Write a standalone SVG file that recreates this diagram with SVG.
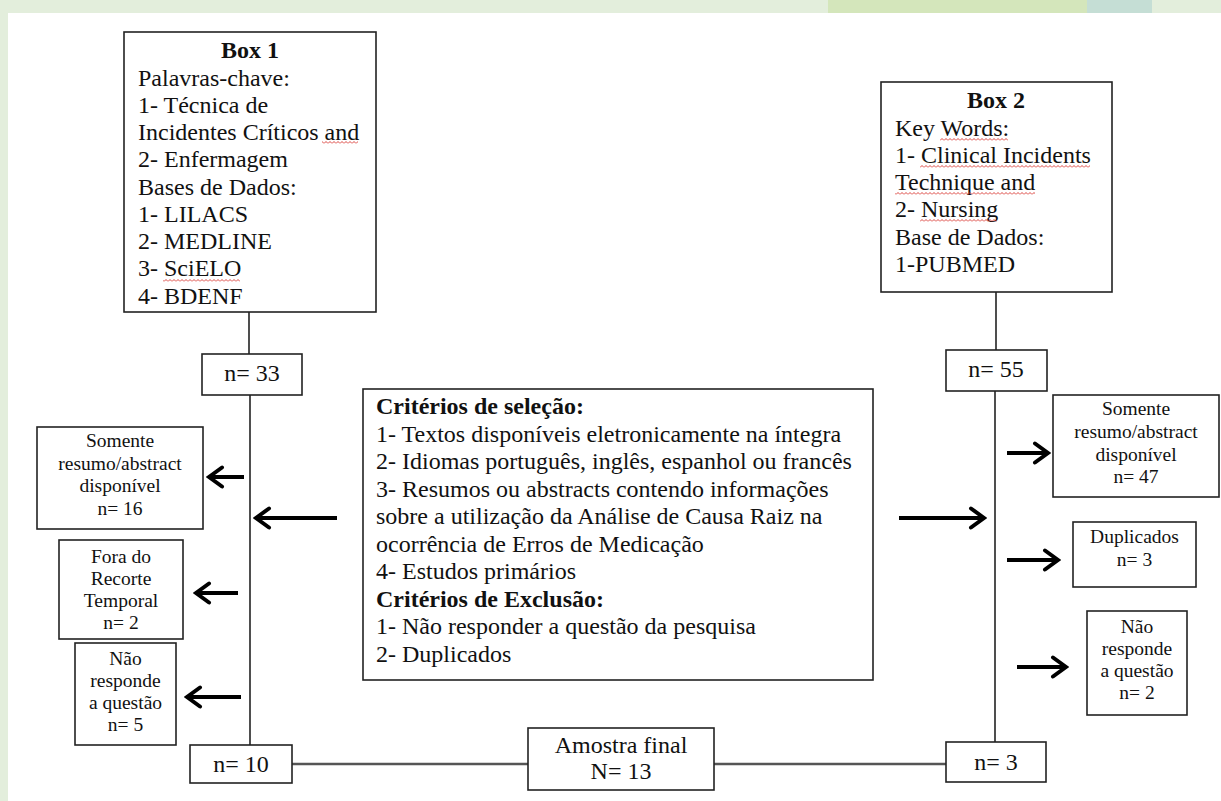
<svg xmlns="http://www.w3.org/2000/svg" width="1221" height="801" viewBox="0 0 1221 801">
<style>
.bx{fill:#fff;stroke:#222;stroke-width:1.6}
.t{font-family:"Liberation Serif","Times New Roman",serif;font-size:24px;fill:#111}
.b{font-weight:bold}
.s{font-family:"Liberation Serif","Times New Roman",serif;font-size:19.5px;fill:#111;text-anchor:middle}
.c{text-anchor:middle}
.ln{stroke:#222;stroke-width:1.6;fill:none}
.hl{stroke:#555;stroke-width:2.6;fill:none}
.ar{stroke:#000;stroke-width:4;fill:none;marker-end:url(#ah)}
</style>
<defs>
<marker id="ah" markerUnits="userSpaceOnUse" markerWidth="22" markerHeight="26" viewBox="0 0 22 26" refX="19" refY="13" orient="auto">
<path d="M6,3.5 L19,13 L6,22.5" stroke="#000" stroke-width="4" fill="none" stroke-linecap="round" stroke-linejoin="miter"/>
</marker>
<pattern id="sq" width="4" height="3" patternUnits="userSpaceOnUse">
<path d="M0,2.5 L2,0.5 L4,2.5" stroke="#d8302a" stroke-width="0.9" fill="none"/>
</pattern>
</defs>
<rect x="0" y="0" width="1221" height="801" fill="#fff"/>
<rect x="0" y="0" width="1221" height="13" fill="#e3eedc"/>
<rect x="0" y="0" width="8" height="801" fill="#e3eedc"/>
<rect x="828" y="0" width="259" height="13" fill="#d4e6bb"/>
<rect x="1087" y="0" width="65" height="13" fill="#c5ded5"/>

<g id="connectors">
<line class="ln" x1="249" y1="312" x2="249" y2="354"/>
<line class="ln" x1="250" y1="395" x2="250" y2="745"/>
<line class="ln" x1="996" y1="292" x2="996" y2="350"/>
<line class="ln" x1="995" y1="391" x2="995" y2="742"/>
<line class="hl" x1="292" y1="764" x2="528" y2="764"/>
<line class="hl" x1="714" y1="764" x2="946" y2="764"/>
<line class="ar" x1="244" y1="477" x2="209" y2="477"/>
<line class="ar" x1="337" y1="518" x2="256" y2="518"/>
<line class="ar" x1="238" y1="593" x2="196" y2="593"/>
<line class="ar" x1="241" y1="697" x2="187" y2="697"/>
<line class="ar" x1="899" y1="518" x2="984" y2="518"/>
<line class="ar" x1="1007" y1="453" x2="1048" y2="453"/>
<line class="ar" x1="1007" y1="560" x2="1058" y2="560"/>
<line class="ar" x1="1017" y1="667" x2="1066" y2="667"/>
</g>

<g id="box1">
<rect class="bx" x="124" y="32" width="252" height="280"/>
<text class="t b c" x="250" y="58">Box 1</text>
<text class="t" x="138" y="85.5">Palavras-chave:</text>
<text class="t" x="138" y="112.8">1- Técnica de</text>
<text class="t" x="138" y="140">Incidentes Críticos and</text>
<text class="t" x="138" y="167.3">2- Enfermagem</text>
<text class="t" x="138" y="194.5">Bases de Dados:</text>
<text class="t" x="138" y="221.8">1- LILACS</text>
<text class="t" x="138" y="249">2- MEDLINE</text>
<text class="t" x="138" y="276.3">3- SciELO</text>
<text class="t" x="138" y="303.5">4- BDENF</text>
<rect x="322" y="141" width="36" height="3" fill="url(#sq)"/>
<rect x="163" y="279" width="77" height="3" fill="url(#sq)"/>
</g>

<g id="box2">
<rect class="bx" x="881" y="82" width="231" height="210"/>
<text class="t b c" x="996" y="108">Box 2</text>
<text class="t" x="895" y="135.5">Key Words:</text>
<text class="t" x="895" y="162.8">1- Clinical Incidents</text>
<text class="t" x="895" y="190">Technique and</text>
<text class="t" x="895" y="217.3">2- Nursing</text>
<text class="t" x="895" y="244.5">Base de Dados:</text>
<text class="t" x="895" y="271.8">1-PUBMED</text>
<rect x="940" y="138" width="68" height="3" fill="url(#sq)"/>
<rect x="920" y="165" width="170" height="3" fill="url(#sq)"/>
<rect x="895" y="192" width="140" height="3" fill="url(#sq)"/>
<rect x="920" y="219" width="77" height="3" fill="url(#sq)"/>
</g>

<g id="n33">
<rect class="bx" x="202" y="354" width="100" height="41"/>
<text class="t c" x="252" y="381">n= 33</text>
</g>

<g id="n55">
<rect class="bx" x="946" y="350" width="101" height="41"/>
<text class="t c" x="996" y="377">n= 55</text>
</g>

<g id="criterios">
<rect class="bx" x="363" y="389" width="510" height="291"/>
<text class="t b" x="376" y="414">Critérios de seleção:</text>
<text class="t" x="376" y="441.5">1- Textos disponíveis eletronicamente na íntegra</text>
<text class="t" x="376" y="469">2- Idiomas português, inglês, espanhol ou francês</text>
<text class="t" x="376" y="496.5">3- Resumos ou abstracts contendo informações</text>
<text class="t" x="376" y="524">sobre a utilização da Análise de Causa Raiz na</text>
<text class="t" x="376" y="551.5">ocorrência de Erros de Medicação</text>
<text class="t" x="376" y="579">4- Estudos primários</text>
<text class="t b" x="376" y="606.5">Critérios de Exclusão:</text>
<text class="t" x="376" y="634">1- Não responder a questão da pesquisa</text>
<text class="t" x="376" y="661.5">2- Duplicados</text>
</g>

<g id="somente16">
<rect class="bx" x="37" y="427" width="166" height="102"/>
<text class="s" x="120" y="447">Somente</text>
<text class="s" x="120" y="469.5">resumo/abstract</text>
<text class="s" x="120" y="492">disponível</text>
<text class="s" x="120" y="514.5">n= 16</text>
</g>

<g id="fora">
<rect class="bx" x="59" y="540" width="124" height="99"/>
<text class="s" x="121" y="563">Fora do</text>
<text class="s" x="121" y="585">Recorte</text>
<text class="s" x="121" y="607">Temporal</text>
<text class="s" x="121" y="629">n= 2</text>
</g>

<g id="naoresponde5">
<rect class="bx" x="75" y="643" width="101" height="102"/>
<text class="s" x="125.5" y="665">Não</text>
<text class="s" x="125.5" y="687">responde</text>
<text class="s" x="125.5" y="709">a questão</text>
<text class="s" x="125.5" y="731">n= 5</text>
</g>

<g id="somente47">
<rect class="bx" x="1053" y="395" width="166" height="102"/>
<text class="s" x="1136" y="415">Somente</text>
<text class="s" x="1136" y="438">resumo/abstract</text>
<text class="s" x="1136" y="460.5">disponível</text>
<text class="s" x="1136" y="483">n= 47</text>
</g>

<g id="duplicados">
<rect class="bx" x="1073" y="522" width="123" height="65"/>
<text class="s" x="1134.5" y="543">Duplicados</text>
<text class="s" x="1134.5" y="566">n= 3</text>
</g>

<g id="naoresponde2">
<rect class="bx" x="1087" y="611" width="100" height="104"/>
<text class="s" x="1137" y="633">Não</text>
<text class="s" x="1137" y="655">responde</text>
<text class="s" x="1137" y="677">a questão</text>
<text class="s" x="1137" y="699">n= 2</text>
</g>

<g id="n10">
<rect class="bx" x="190" y="745" width="102" height="38"/>
<text class="t c" x="241" y="772">n= 10</text>
</g>

<g id="amostra">
<rect class="bx" x="528" y="728" width="186" height="62"/>
<text class="t c" x="621" y="753">Amostra final</text>
<text class="t c" x="621" y="779">N= 13</text>
</g>

<g id="n3">
<rect class="bx" x="946" y="742" width="100" height="40"/>
<text class="t c" x="996" y="770">n= 3</text>
</g>
</svg>
